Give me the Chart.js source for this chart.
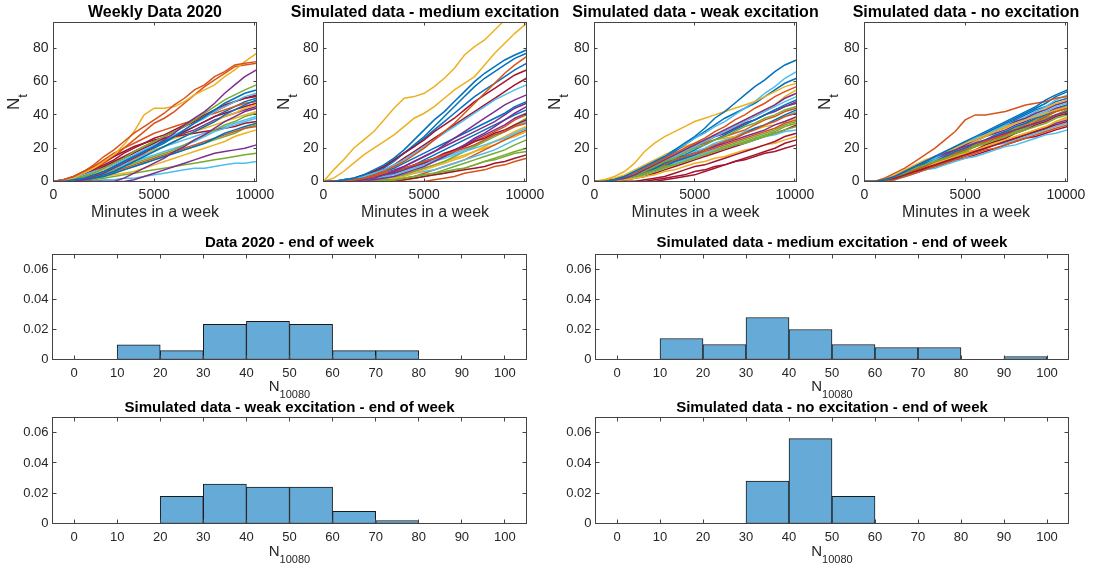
<!DOCTYPE html>
<html>
<head>
<meta charset="utf-8">
<title>Weekly counts and end-of-week histograms</title>
<script src="https://cdn.jsdelivr.net/npm/chart.js@4.4.1/dist/chart.umd.min.js"></script>
<style>
  html, body { margin: 0; padding: 0; background: #fff; }
  #fig { position: relative; width: 1093px; height: 572px; overflow: hidden; }
  #fig canvas { position: absolute; }
</style>
</head>
<body>
<div id="fig"></div>
<script>
// --- DATA ---
const minutes = [0, 500, 1000, 1500, 2000, 2500, 3000, 3500, 4000, 4500, 5000,
                 5500, 6000, 6500, 7000, 7500, 8000, 8500, 9000, 9500, 10080];
const topXTicks = [0, 5000, 10000];
const topYTicks = [0, 20, 40, 60, 80];

// N_t per week, one row per path
const weekly2020Paths = [
  [0,0,1,2,4,6,9,12,15,18,21,24,27,31,35,39,43,47,50,53,55],
  [0,1,3,6,10,15,19,24,29,33,37,41,46,50,55,58,63,66,70,71,72],
  [0,0,2,5,8,12,16,22,30,40,44,44,45,48,52,55,58,63,67,72,77],
  [0,0,0,1,3,5,8,11,14,17,21,25,29,34,38,42,47,53,58,63,67],
  [0,0,1,3,5,8,11,14,18,21,24,27,30,33,37,41,45,49,52,55,58],
  [0,1,2,4,6,8,10,13,16,19,22,25,28,31,35,38,42,45,48,51,53],
  [0,0,2,4,7,10,13,17,20,23,26,28,31,34,37,40,43,46,48,50,51],
  [0,0,0,1,2,4,6,9,12,15,18,21,24,27,30,33,36,40,43,46,49],
  [0,1,3,5,9,13,17,20,23,26,29,31,33,35,37,39,41,43,45,47,48],
  [0,0,1,3,5,7,9,11,14,17,19,21,24,27,30,33,36,39,41,44,46],
  [0,0,0,0,0,0,0,2,5,8,11,14,18,21,25,28,32,36,39,42,44],
  [0,0,1,2,3,5,7,9,11,13,15,17,19,22,25,28,31,34,36,39,41],
  [0,0,1,2,4,6,8,10,12,14,16,18,20,22,24,27,30,32,34,36,38],
  [0,1,3,6,9,12,15,18,21,23,25,26,27,28,29,30,31,32,33,35,36],
  [0,0,0,1,2,3,5,7,9,11,13,15,17,19,21,23,26,29,31,33,35],
  [0,0,1,2,3,4,6,8,10,12,14,16,18,20,22,24,26,28,30,32,33],
  [0,0,0,1,2,3,4,5,6,8,10,12,14,16,18,20,22,24,27,29,31],
  [0,0,0,0,0,0,0,0,1,3,5,7,9,11,13,15,17,18,19,20,22],
  [0,0,0,0,1,2,3,4,5,6,7,8,9,10,11,12,13,14,15,16,17],
  [0,0,0,0,0,1,1,2,2,3,4,5,6,7,8,8,9,10,11,11,12],
  [0,0,1,3,5,8,11,14,17,20,23,26,28,30,33,36,39,41,43,45,47],
  [0,0,1,2,3,5,8,11,14,17,20,23,27,30,33,36,39,42,45,48,50],
  [0,1,2,4,7,11,15,20,25,30,35,38,42,47,52,57,61,65,69,70,71],
  [0,0,0,1,2,4,6,9,13,17,21,24,26,28,30,32,34,36,38,40,42],
  [0,0,1,2,4,6,9,12,15,18,21,24,27,29,31,34,37,39,41,43,45],
  [0,0,0,1,2,3,5,7,9,11,13,15,17,19,21,23,25,27,29,32,34],
  [0,0,1,2,4,6,8,10,13,16,19,21,23,25,27,29,31,33,35,37,39],
  [0,1,2,4,6,9,12,15,18,21,24,27,30,33,36,39,42,45,48,50,52]
];

const mediumPaths = [
  [0,0,1,2,4,7,10,14,19,25,31,37,42,48,54,60,65,69,73,76,79],
  [0,0,0,1,2,4,6,9,12,16,20,25,30,35,41,47,53,59,65,70,75],
  [0,7,13,20,25,30,37,44,50,51,53,57,62,68,76,81,85,91,97,103,108],
  [0,0,0,0,1,2,4,6,9,12,15,18,22,26,30,34,38,42,46,49,52],
  [0,0,0,0,0,0,0,1,2,3,4,5,6,7,8,10,12,13,15,17,18],
  [0,0,1,2,3,5,7,10,13,17,21,25,29,33,37,41,45,49,52,55,58],
  [0,0,1,2,4,6,9,13,17,21,25,30,34,38,43,48,52,56,60,64,67],
  [0,0,0,1,3,5,8,12,17,22,27,33,39,45,51,57,62,66,70,74,77],
  [0,0,0,1,2,3,5,6,8,10,12,14,16,18,20,22,25,28,30,33,35],
  [0,2,6,11,16,20,24,28,33,38,41,45,50,55,59,63,70,77,83,89,95],
  [0,0,0,0,0,1,2,3,5,7,9,12,15,18,22,26,29,33,37,41,45],
  [0,0,0,0,0,0,1,1,2,3,4,5,7,9,11,13,15,17,19,22,25],
  [0,0,0,0,1,2,3,4,6,8,10,12,14,16,18,20,22,24,26,29,32],
  [0,0,0,1,2,3,4,6,8,10,12,14,17,19,21,24,26,29,31,34,37],
  [0,0,0,1,2,4,6,8,11,14,17,20,23,26,29,32,35,38,41,45,48],
  [0,0,0,0,0,0,0,0,0,0,0,1,2,3,5,6,7,9,10,12,14],
  [0,0,0,0,0,0,1,2,3,5,7,9,11,13,15,18,21,24,27,30,33],
  [0,0,0,0,1,2,3,5,7,9,11,14,16,19,22,25,28,31,34,38,41],
  [0,0,0,0,0,0,1,2,4,6,8,10,12,15,18,21,24,27,30,34,38],
  [0,0,0,0,0,1,2,3,4,5,6,7,9,11,13,15,17,19,22,25,28],
  [0,0,0,0,0,0,0,0,1,2,3,4,5,6,7,8,9,11,12,14,16],
  [0,0,0,0,1,2,3,5,7,10,13,16,19,22,25,28,31,34,37,40,43],
  [0,0,0,0,0,0,0,1,2,3,5,7,9,11,13,16,19,22,25,28,31],
  [0,0,0,0,0,1,2,3,4,6,8,10,12,14,16,18,20,22,25,27,30],
  [0,0,0,1,2,3,5,7,9,12,15,18,21,24,27,30,33,36,40,44,47],
  [0,0,0,0,0,0,0,0,1,2,3,4,5,7,8,10,12,14,16,18,20],
  [0,0,0,0,1,2,3,5,7,9,11,13,15,17,19,22,25,28,30,33,36],
  [0,0,0,1,2,4,7,10,14,18,22,26,30,34,38,42,46,50,54,58,62],
  [0,0,1,2,4,6,9,13,17,21,26,31,36,41,46,51,55,59,63,67,71],
  [0,0,0,0,1,2,3,5,7,9,11,13,15,18,21,24,27,30,33,37,40]
];

const weakPaths = [
  [0,0,1,3,6,9,12,15,19,23,27,32,38,42,47,52,57,61,66,70,73],
  [0,0,1,3,5,8,11,14,17,20,23,26,30,33,37,40,44,47,51,54,57],
  [0,1,3,6,11,18,23,27,30,33,36,38,40,42,44,46,48,51,54,57,59],
  [0,0,1,2,4,7,10,13,16,19,22,25,28,31,34,37,40,43,46,50,53],
  [0,0,1,2,4,6,9,12,14,17,20,22,25,27,30,33,35,38,40,43,45],
  [0,0,1,3,5,8,12,15,19,22,26,29,33,36,40,44,48,53,57,62,66],
  [0,0,0,0,0,1,2,3,5,7,9,10,12,14,16,18,20,22,24,27,29],
  [0,0,1,2,4,6,8,11,14,16,19,22,25,28,31,34,37,40,43,46,49],
  [0,0,1,3,5,7,9,11,13,15,17,19,22,24,26,29,31,34,36,39,41],
  [0,0,0,1,2,3,4,6,7,9,11,12,14,15,17,19,20,22,23,25,27],
  [0,0,1,2,4,6,8,11,13,15,17,19,21,23,25,27,29,31,34,36,39],
  [0,0,1,2,3,5,7,9,10,12,14,16,18,20,22,24,26,28,30,33,35],
  [0,0,1,2,4,6,9,12,15,18,21,24,27,30,33,36,39,42,45,48,51],
  [0,0,0,0,0,0,0,1,2,3,4,6,8,10,12,13,15,17,18,20,22],
  [0,0,0,1,3,5,7,9,12,14,16,19,21,24,26,29,32,34,37,40,43],
  [0,0,1,2,4,6,8,10,12,14,16,18,20,22,24,26,28,30,32,35,37],
  [0,0,1,2,4,7,10,13,16,19,22,25,28,31,34,37,40,43,46,51,55],
  [0,0,1,2,4,6,9,12,15,18,21,24,27,29,32,35,37,40,42,45,47],
  [0,0,0,1,2,4,6,8,10,12,14,16,18,20,22,23,25,27,29,31,33],
  [0,0,1,2,3,5,7,9,11,13,15,17,19,20,22,23,25,27,28,30,31],
  [0,0,0,0,0,0,1,2,3,4,6,7,9,10,12,14,16,18,20,23,25],
  [0,0,1,3,5,8,11,14,18,22,26,30,34,38,41,44,47,51,55,59,62],
  [0,0,1,2,4,7,10,13,16,19,21,23,25,27,29,31,34,37,39,42,44],
  [0,1,2,4,7,10,13,16,19,21,23,24,25,26,27,29,31,33,34,36,38],
  [0,0,1,2,4,7,10,13,16,19,22,24,27,29,32,35,37,40,43,45,48],
  [0,0,1,2,3,5,7,9,11,13,15,17,19,21,23,25,27,29,31,34,36],
  [0,0,1,2,4,6,8,10,13,15,18,20,23,25,27,30,32,34,37,39,42],
  [0,0,0,1,2,3,5,7,9,11,13,15,17,19,21,23,25,27,29,31,34]
];

const noExcitationPaths = [
  [0,0,1,3,6,9,12,15,18,21,24,27,30,33,36,39,42,45,49,52,55],
  [0,0,2,5,8,12,16,20,25,30,37,40,40,41,42,44,46,47,48,50,51],
  [0,0,2,4,7,10,13,15,18,20,23,25,28,30,33,35,37,39,41,43,45],
  [0,0,1,3,6,9,12,15,17,19,21,23,25,27,29,31,33,35,37,40,42],
  [0,0,1,3,5,8,10,12,14,16,18,21,23,25,27,29,31,33,35,38,40],
  [0,0,1,3,6,9,12,14,17,20,23,26,28,31,33,35,37,40,42,45,47],
  [0,0,1,2,4,6,8,10,12,14,16,18,20,22,24,26,28,30,32,34,36],
  [0,0,1,3,5,8,11,14,17,20,23,26,29,32,35,38,41,44,47,51,54],
  [0,0,1,3,5,7,9,12,14,16,19,21,24,26,28,31,33,36,39,42,44],
  [0,0,1,3,5,7,9,11,13,15,17,19,21,23,25,27,29,31,33,36,39],
  [0,0,1,3,6,9,12,14,16,19,22,25,28,30,33,36,38,41,43,46,48],
  [0,0,1,2,4,6,9,11,13,16,18,21,23,25,28,30,33,35,38,40,43],
  [0,0,1,3,5,8,11,13,16,19,22,25,28,31,34,36,39,42,45,49,52],
  [0,0,1,2,4,6,8,11,13,15,17,19,22,24,26,29,31,34,36,39,41],
  [0,0,1,2,4,7,10,12,15,18,20,23,25,28,30,33,35,38,40,43,46],
  [0,0,0,1,3,5,7,9,11,13,15,17,19,20,22,24,26,28,30,32,34],
  [0,0,1,3,5,8,11,14,16,19,22,24,27,30,32,35,38,41,44,47,49],
  [0,0,1,2,4,6,8,10,12,14,16,18,20,22,24,26,28,30,32,35,37],
  [0,0,1,2,5,7,10,13,15,18,20,22,25,27,30,32,35,37,40,42,45],
  [0,0,0,1,3,5,7,8,10,12,14,15,17,19,21,22,24,26,28,29,31],
  [0,0,1,2,3,5,7,9,11,13,14,16,18,20,22,24,26,27,29,31,33],
  [0,0,1,3,5,8,11,14,17,20,23,25,28,31,34,37,40,43,45,48,50],
  [0,0,1,3,5,8,10,12,15,17,20,22,24,27,29,32,34,37,39,42,44],
  [0,0,1,2,4,7,9,11,13,15,17,19,21,23,25,27,29,31,33,36,38],
  [0,0,1,3,6,9,12,15,17,20,22,24,27,29,31,34,36,39,41,44,46],
  [0,0,1,2,5,7,9,12,14,16,19,21,23,25,27,30,32,35,37,40,42],
  [0,0,1,2,4,6,8,10,12,14,16,18,20,22,23,25,27,29,31,33,35],
  [0,0,1,3,5,7,10,12,14,17,19,21,24,26,28,31,33,35,38,40,43]
];

// end-of-week histograms (probability density per bin of width 10)
const binEdges = [0, 10, 20, 30, 40, 50, 60, 70, 80, 90, 100];
const density2020   = [0, 0.0098, 0.0059, 0.0235, 0.0255, 0.0235, 0.0059, 0.0059, 0, 0];
const densityMedium = [0, 0.014, 0.010, 0.028, 0.020, 0.010, 0.008, 0.008, 0, 0.002];
const densityWeak   = [0, 0, 0.018, 0.026, 0.024, 0.024, 0.008, 0.002, 0, 0];
const densityNone   = [0, 0, 0, 0.028, 0.056, 0.018, 0, 0, 0, 0];
const histXTicks = [0, 10, 20, 30, 40, 50, 60, 70, 80, 90, 100];
const histYTicks = [0, 0.02, 0.04, 0.06];

// --- STYLE ---
const colorOrder = ['#0072BD', '#D95319', '#EDB120', '#7E2F8E', '#77AC30', '#4DBEEE', '#A2142F'];
const FONT = "'Liberation Sans', Arial, Helvetica, sans-serif";
const TEXT = '#262626';
Chart.defaults.font.family = FONT;
Chart.defaults.color = TEXT;
Chart.defaults.animation = false;

function subLabel(ctx, text, sub, size, cx, cy) {
  const mainFont = size + 'px ' + FONT;
  const subFont = Math.round(size * 0.75) + 'px ' + FONT;
  ctx.font = mainFont;
  const w1 = ctx.measureText(text).width;
  ctx.font = subFont;
  const w2 = sub ? ctx.measureText(sub).width : 0;
  const x = cx - (w1 + w2) / 2;
  ctx.textAlign = 'left';
  ctx.textBaseline = 'middle';
  ctx.font = mainFont;
  ctx.fillText(text, x, cy);
  if (sub) {
    ctx.font = subFont;
    ctx.fillText(sub, x + w1, cy + size * 0.5);
  }
}

// box around the axes, inward ticks on all four sides, title and labels with subscripts
const matlabAxes = {
  id: 'matlabAxes',
  afterDatasetsDraw(chart, args, o) {
    const { ctx, chartArea: a } = chart;
    const xs = chart.scales.x, ys = chart.scales.y;
    ctx.save();
    ctx.strokeStyle = '#444';
    ctx.lineWidth = 1;
    ctx.strokeRect(a.left, a.top, a.right - a.left, a.bottom - a.top);
    ctx.beginPath();
    xs.ticks.forEach(t => {
      const px = Math.round(xs.getPixelForValue(t.value) - 0.5) + 0.5;
      ctx.moveTo(px, a.bottom); ctx.lineTo(px, a.bottom - o.tickLen);
      ctx.moveTo(px, a.top); ctx.lineTo(px, a.top + o.tickLen);
    });
    ys.ticks.forEach(t => {
      const py = Math.round(ys.getPixelForValue(t.value) - 0.5) + 0.5;
      ctx.moveTo(a.left, py); ctx.lineTo(a.left + o.tickLen, py);
      ctx.moveTo(a.right, py); ctx.lineTo(a.right - o.tickLen, py);
    });
    ctx.stroke();

    // title, centred over the axes and free to run past them
    ctx.fillStyle = '#000';
    ctx.font = 'bold ' + o.titleSize + 'px ' + FONT;
    ctx.textAlign = 'center';
    ctx.textBaseline = 'middle';
    ctx.fillText(o.title, (a.left + a.right) / 2, o.titleY);

    ctx.fillStyle = TEXT;
    subLabel(ctx, o.xText, o.xSub, o.xSize, (a.left + a.right) / 2, a.bottom + o.xOffset);
    if (o.yText) {
      ctx.translate(o.yX, (a.top + a.bottom) / 2);
      ctx.rotate(-Math.PI / 2);
      subLabel(ctx, o.yText, o.ySub, o.ySize, 0, 0);
    }
    ctx.restore();
  }
};

function makeCanvas(x0, y0, x1, y1) {
  const c = document.createElement('canvas');
  c.width = x1 - x0;
  c.height = y1 - y0;
  c.style.left = x0 + 'px';
  c.style.top = y0 + 'px';
  c.style.width = (x1 - x0) + 'px';
  c.style.height = (y1 - y0) + 'px';
  document.getElementById('fig').appendChild(c);
  return c;
}

function fixedTicks(values) {
  return s => { s.ticks = values.map(v => ({ value: v })); };
}

// --- TOP ROW: paths ---
const topLefts = [53.5, 323.5, 594.5, 864.5];
const topRights = [256.5, 526.5, 796.5, 1067.5];
const SIDE = 30;   // extra room either side so long titles are not cut

function drawPaths(col, title, paths) {
  const l = topLefts[col], r = topRights[col];
  const cv = makeCanvas(l - 53.5 - SIDE, 0, r + 22.5 + SIDE, 232);
  new Chart(cv, {
    type: 'line',
    data: {
      datasets: paths.map((p, i) => ({
        data: minutes.map((m, k) => ({ x: m, y: p[k] })),
        borderColor: colorOrder[i % colorOrder.length],
        borderWidth: 1.5,
        pointRadius: 0,
        tension: 0,
        fill: false
      }))
    },
    options: {
      responsive: false,
      events: [],
      layout: { autoPadding: false, padding: { left: SIDE, right: 22.5 + SIDE, top: 22.5, bottom: 0 } },
      scales: {
        x: {
          type: 'linear', min: 0, max: 10080,
          afterBuildTicks: fixedTicks(topXTicks),
          afterFit: s => { s.height = 50.5; },
          grid: { display: false, drawTicks: false },
          border: { display: false },
          ticks: { padding: 5.1, font: { size: 14 }, maxRotation: 0, autoSkip: false, callback: v => String(v) }
        },
        y: {
          type: 'linear', min: 0, max: 95.5,
          afterBuildTicks: fixedTicks(topYTicks),
          afterFit: s => { s.width = 53.5; },
          grid: { display: false, drawTicks: false },
          border: { display: false },
          ticks: { padding: 5, font: { size: 14 }, autoSkip: false, callback: v => String(v) }
        }
      },
      plugins: {
        legend: { display: false },
        tooltip: { enabled: false },
        title: { display: false },
        matlabAxes: {
          tickLen: 3,
          title: title, titleSize: 16, titleY: 12.5,
          xText: 'Minutes in a week', xSub: '', xSize: 16, xOffset: 31.5,
          yText: 'N', ySub: 't', ySize: 17, yX: SIDE + 14.5
        }
      }
    },
    plugins: [matlabAxes]
  });
}

// --- HISTOGRAMS ---
const histLefts = [52.5, 595.5];
const histRights = [526.5, 1068.5];
const histRows = [
  { y0: 232, y1: 410, t: 254.5, b: 359.5, titleY: 11, lab: 27.5 },
  { y0: 395, y1: 572, t: 417.5, b: 523.5, titleY: 12.5, lab: 28.5 }
];

function drawHist(col, row, title, density) {
  const l = histLefts[col], r = histRights[col], R = histRows[row];
  const cv = makeCanvas(l - 52.5, R.y0, r + 20.5, R.y1);
  const bars = [];
  density.forEach((d, i) => {
    if (d > 0) bars.push({ x: (binEdges[i] + binEdges[i + 1]) / 2, y: d });
  });
  new Chart(cv, {
    type: 'bar',
    data: {
      datasets: [{
        data: bars,
        backgroundColor: '#66AAD7',
        borderColor: '#1a1a1a',
        borderWidth: 1,
        borderSkipped: false,
        barPercentage: 1,
        categoryPercentage: 1
      }]
    },
    options: {
      responsive: false,
      events: [],
      layout: { autoPadding: false, padding: { left: 0, right: 20.5, top: R.t - R.y0, bottom: 0 } },
      scales: {
        x: {
          type: 'linear', min: -5, max: 105, offset: false,
          afterBuildTicks: fixedTicks(histXTicks),
          afterFit: s => { s.height = R.y1 - R.b; },
          grid: { display: false, drawTicks: false, offset: false },
          border: { display: false },
          ticks: { padding: 5.7, font: { size: 13 }, maxRotation: 0, autoSkip: false, callback: v => String(v) }
        },
        y: {
          type: 'linear', min: 0, max: 0.07,
          afterBuildTicks: fixedTicks(histYTicks),
          afterFit: s => { s.width = 52.5; },
          grid: { display: false, drawTicks: false },
          border: { display: false },
          ticks: { padding: 4, font: { size: 13 }, autoSkip: false, callback: v => v === 0 ? '0' : v.toFixed(2) }
        }
      },
      plugins: {
        legend: { display: false },
        tooltip: { enabled: false },
        title: { display: false },
        matlabAxes: {
          tickLen: 4,
          title: title, titleSize: 15, titleY: R.titleY,
          xText: 'N', xSub: '10080', xSize: 15, xOffset: R.lab,
          yText: '', ySub: '', ySize: 0, yX: 0
        }
      }
    },
    plugins: [matlabAxes]
  });
}

drawPaths(0, 'Weekly Data 2020', weekly2020Paths);
drawPaths(1, 'Simulated data - medium excitation', mediumPaths);
drawPaths(2, 'Simulated data - weak excitation', weakPaths);
drawPaths(3, 'Simulated data - no excitation', noExcitationPaths);

drawHist(0, 0, 'Data 2020 - end of week', density2020);
drawHist(1, 0, 'Simulated data - medium excitation - end of week', densityMedium);
drawHist(0, 1, 'Simulated data - weak excitation - end of week', densityWeak);
drawHist(1, 1, 'Simulated data - no excitation - end of week', densityNone);
</script>
</body>
</html>
